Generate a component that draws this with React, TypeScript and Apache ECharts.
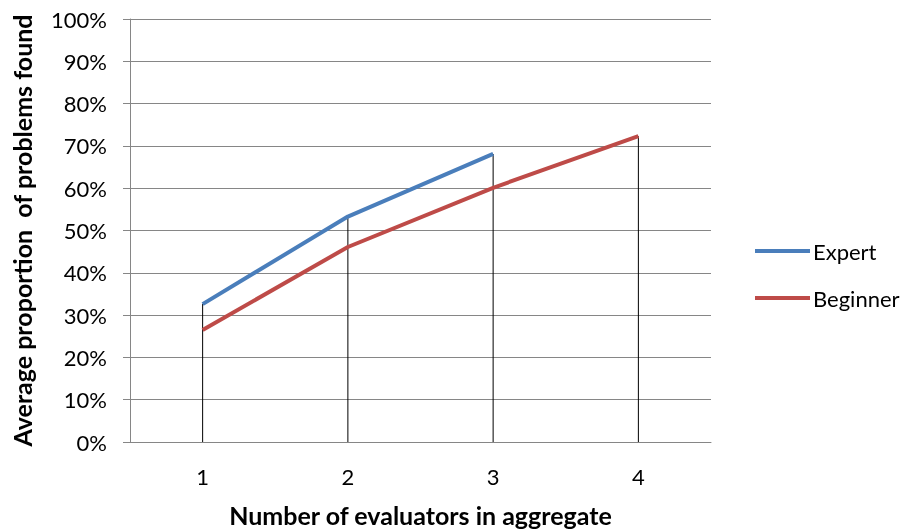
import React, { useEffect, useRef } from "react";
import * as echarts from "echarts";

const categories = ["1", "2", "3", "4"];
const expert: (number | null)[] = [32.6, 53.3, 68.1, null];
const beginner: (number | null)[] = [26.5, 46.1, 60.1, 72.3];
const yTicks = { min: 0, max: 100, interval: 10 };

const FONT = "Lato, 'Noto Sans', sans-serif";

export default function App() {
  const ref = useRef<HTMLDivElement>(null);
  useEffect(() => {
    if (!ref.current) return;
    const chart = echarts.init(ref.current, undefined, { renderer: "svg" });
    const drops = categories.map((_, i) =>
      Math.max(expert[i] ?? 0, beginner[i] ?? 0)
    );
    chart.setOption({
      animation: false,
      textStyle: { fontFamily: FONT },
      grid: { left: 130, right: 198, top: 19, bottom: 90, containLabel: false },
      legend: {
        orient: "vertical",
        left: 750,
        top: 235,
        itemWidth: 55,
        itemHeight: 4,
        itemGap: 25,
        icon: "rect",
        data: ["Expert", "Beginner"],
        textStyle: { fontFamily: FONT, fontSize: 22, color: "#000", padding: [0, 0, 0, -2] },
      },
      xAxis: {
        type: "category",
        data: categories,
        boundaryGap: true,
        name: "Number of evaluators in aggregate",
        nameLocation: "middle",
        nameGap: 60,
        nameTextStyle: { fontFamily: FONT, fontSize: 25, fontWeight: "bold", color: "#000" },
        axisLine: { lineStyle: { color: "#868686", width: 1 } },
        axisTick: { show: false },
        axisLabel: { fontFamily: FONT, fontSize: 22, color: "#000", margin: 23 },
        splitLine: { show: false },
      },
      yAxis: {
        type: "value",
        min: yTicks.min,
        max: yTicks.max,
        interval: yTicks.interval,
        name: "Average proportion  of problems found",
        nameLocation: "middle",
        nameGap: 96,
        nameTextStyle: { fontFamily: FONT, fontSize: 25, fontWeight: "bold", color: "#000" },
        axisLine: { show: true, lineStyle: { color: "#868686", width: 1 } },
        axisTick: { show: true, inside: false, length: 7, lineStyle: { color: "#868686" } },
        axisLabel: { fontFamily: FONT, fontSize: 22, color: "#000", margin: 23, formatter: "{value}%" },
        splitLine: { show: true, lineStyle: { color: "#868686", width: 1 } },
      },
      series: [
        {
          name: "drop",
          type: "bar",
          data: drops,
          barWidth: 1,
          itemStyle: { color: "#000" },
          z: 1,
          silent: true,
        },
        {
          name: "Expert",
          type: "line",
          data: expert,
          symbol: "none",
          lineStyle: { color: "#4A7EBB", width: 4 },
          itemStyle: { color: "#4A7EBB" },
          z: 3,
        },
        {
          name: "Beginner",
          type: "line",
          data: beginner,
          symbol: "none",
          lineStyle: { color: "#BE4B48", width: 4 },
          itemStyle: { color: "#BE4B48" },
          z: 2,
        },
      ],
    });
    return () => chart.dispose();
  }, []);
  return (
    <div
      ref={ref}
      style={{ position: "fixed", left: 0, top: 0, width: 909, height: 532 }}
    />
  );
}
